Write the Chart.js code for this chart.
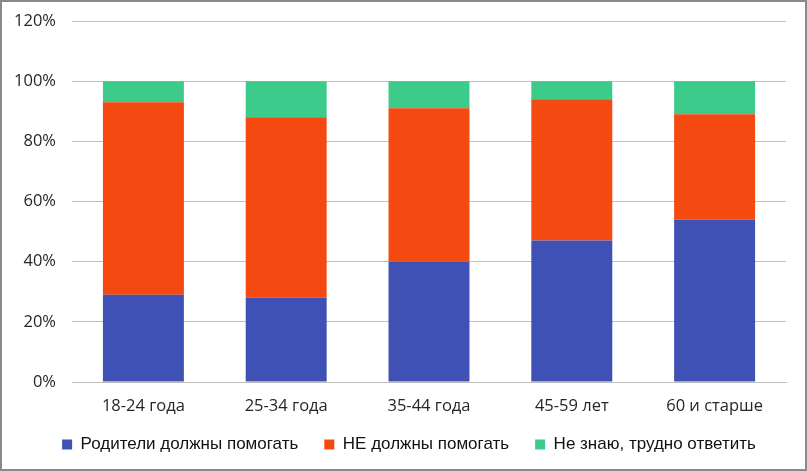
<!DOCTYPE html>
<html>
<head>
<meta charset="utf-8">
<script src="https://cdn.jsdelivr.net/npm/chart.js@4"></script>
<style>
    html, body { margin: 0; padding: 0; background: #fff; }
    #wrap {
        width: 807px; height: 471px; box-sizing: border-box;
        border: 2px solid #8a8a8a; background: #fff; position: relative;
    }
    #chart { display: block; }
</style>
</head>
<body>
<div id="wrap"><canvas id="chart" width="803" height="467"></canvas></div>
<script>
// ============================================
// DATA
// ============================================

const categories = ['18-24 года', '25-34 года', '35-44 года', '45-59 лет', '60 и старше'];
const parentsMustHelp = [29, 28, 40, 47, 54];
const mustNotHelp = [64, 60, 51, 47, 35];
const dontKnow = [7, 12, 9, 6, 11];
const seriesNames = ['Родители должны помогать', 'НЕ должны помогать', 'Не знаю, трудно ответить'];
const yTicks = [0, 20, 40, 60, 80, 100, 120];

// ============================================
// CHART
// ============================================

// legend keeps its wide item spacing but takes less height,
// and sits a little right of the plot centre like the original
const legendTweak = {
    id: 'legendTweak',
    afterInit(chart) {
        const lg = chart.legend;
        if (!lg) return;
        const fit = lg.fit.bind(lg);
        lg.fit = function () {
            fit();
            this.height = 62;
        };
    },
    afterLayout(chart) {
        const lg = chart.legend;
        if (!lg) return;
        lg.left += 15;
        lg.right += 15;
        lg.top += 3;
        lg.bottom += 3;
    }
};

const ctx = document.getElementById('chart').getContext('2d');
new Chart(ctx, {
    type: 'bar',
    data: {
        labels: categories,
        datasets: [
            { label: seriesNames[0], data: parentsMustHelp, backgroundColor: '#3F51B5' },
            { label: seriesNames[1], data: mustNotHelp, backgroundColor: '#F44A12' },
            { label: seriesNames[2], data: dontKnow, backgroundColor: '#3CCB8B' }
        ]
    },
    plugins: [legendTweak],
    options: {
        responsive: false,
        animation: false,
        layout: { padding: { left: 0, right: 19, top: 19, bottom: 0 } },
        datasets: {
            bar: { categoryPercentage: 1, barPercentage: 0.567, borderWidth: 0 }
        },
        scales: {
            x: {
                stacked: true,
                grid: { display: false, drawTicks: false },
                border: { display: true, color: '#bfbfbf', width: 1 },
                afterFit: axis => {
                    axis.height = 25;
                    axis._computeLabelArea = () => null; // don't clip labels to the shortened box
                },
                ticks: {
                    color: '#262626',
                    padding: 14,
                    font: { family: 'Open Sans', size: 16.5 }
                }
            },
            y: {
                stacked: true,
                min: 0,
                max: 120,
                afterBuildTicks: axis => { axis.ticks = yTicks.map(v => ({ value: v })); },
                afterFit: axis => {
                    axis.width = 70;
                    axis.paddingTop = 0;
                    axis.paddingBottom = 0;
                },
                grid: { color: '#bfbfbf', drawTicks: false },
                border: { display: false },
                ticks: {
                    color: '#262626',
                    padding: 16,
                    font: { family: 'Open Sans', size: 16.5 },
                    callback: v => v + '%'
                }
            }
        },
        plugins: {
            legend: {
                position: 'bottom',
                labels: {
                    boxWidth: 10,
                    boxHeight: 10,
                    padding: 26,
                    color: '#111',
                    font: { family: 'Liberation Sans', size: 17 }
                }
            },
            tooltip: { enabled: false }
        }
    }
});
</script>
</body>
</html>
